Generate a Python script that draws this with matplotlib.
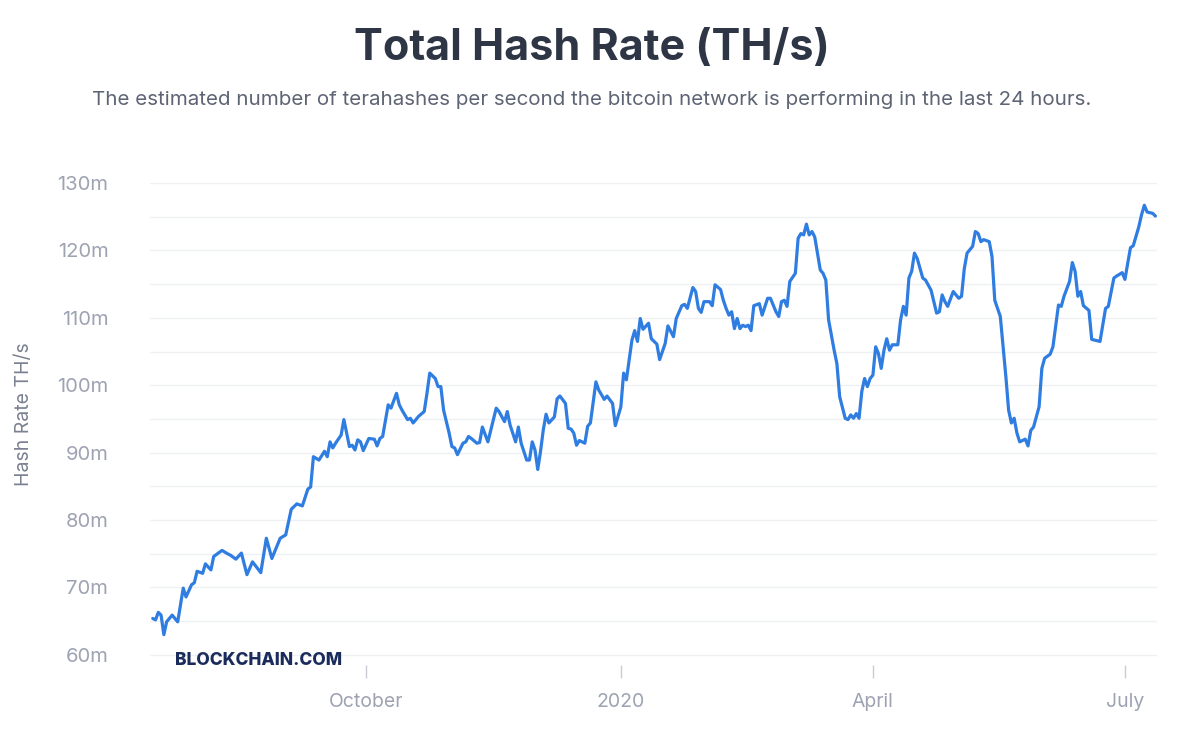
import pandas as pd
import matplotlib
matplotlib.use('Agg')
import matplotlib.pyplot as plt

plt.rcParams['font.family'] = ['Inter', 'DejaVu Sans']

start_date = '2019-07-15'

# days after start_date
days = [1, 2, 3, 4, 5, 6, 8, 10, 12, 13, 15, 16, 17, 19, 20, 22, 23, 26, 28, 29,
        31, 33, 35, 37, 40, 42, 44, 47, 49, 51, 53, 55, 57, 58, 59, 61, 63, 64, 65, 66,
        67, 69, 70, 72, 73, 74, 75, 76, 77, 79, 81, 82, 83, 84, 86, 87, 89, 90, 91, 93,
        94, 95, 97, 99, 100, 101, 103, 104, 105, 106, 108, 109, 110, 111, 113, 114, 115, 116, 118, 119,
        120, 122, 124, 125, 126, 128, 129, 130, 132, 133, 134, 136, 137, 138, 139, 140, 141, 142, 143, 144,
        146, 147, 148, 150, 151, 152, 153, 154, 155, 157, 158, 159, 161, 162, 164, 165, 167, 168, 170, 171,
        172, 174, 175, 176, 177, 178, 180, 181, 183, 184, 186, 187, 189, 190, 192, 193, 194, 196, 197, 198,
        199, 200, 202, 203, 204, 206, 207, 208, 209, 210, 211, 212, 213, 214, 215, 216, 217, 218, 220, 221,
        223, 224, 226, 227, 228, 229, 230, 231, 233, 234, 235, 236, 237, 238, 239, 240, 242, 243, 244, 245,
        247, 248, 249, 251, 252, 253, 254, 255, 256, 257, 258, 259, 260, 261, 262, 263, 264, 265, 266, 267,
        268, 270, 271, 272, 273, 274, 275, 276, 277, 279, 280, 282, 283, 284, 285, 286, 287, 288, 290, 292,
        293, 294, 295, 297, 298, 299, 300, 301, 303, 304, 305, 306, 307, 309, 310, 311, 312, 313, 314, 316,
        317, 318, 319, 321, 322, 323, 325, 326, 328, 329, 330, 332, 333, 334, 335, 336, 337, 339, 340, 342,
        343, 345, 346, 348, 349, 351, 352, 353, 354, 355, 357, 358, 359, 360, 362, 363]

# hash rate, million TH/s
hash_rate = [65.4, 65.2, 66.3, 65.9, 63.0, 64.9, 65.9, 64.9, 69.9, 68.6, 70.4, 70.7, 72.4, 72.1, 73.5, 72.6, 74.6, 75.5, 75.0, 74.8,
             74.2, 75.1, 71.9, 73.8, 72.2, 77.3, 74.3, 77.3, 77.8, 81.6, 82.4, 82.1, 84.6, 84.9, 89.4, 88.9, 90.2, 89.4, 91.6, 90.7,
             91.4, 92.6, 94.9, 90.9, 91.1, 90.4, 91.9, 91.6, 90.3, 92.1, 92.0, 91.0, 92.1, 92.4, 97.1, 96.6, 98.8, 97.1, 96.3, 94.9,
             95.1, 94.4, 95.4, 96.1, 98.8, 101.8, 101.0, 99.8, 99.8, 96.3, 92.9, 90.9, 90.7, 89.7, 91.4, 91.6, 92.4, 92.1, 91.4, 91.5,
             93.8, 91.6, 94.9, 96.6, 96.1, 94.6, 96.1, 94.1, 91.6, 93.8, 91.4, 88.9, 88.9, 91.6, 90.4, 87.5, 90.2, 93.4, 95.7, 94.4,
             95.3, 98.0, 98.4, 97.3, 93.6, 93.5, 92.9, 91.1, 91.8, 91.4, 93.9, 94.4, 100.5, 99.3, 97.9, 98.4, 97.3, 94.0, 96.8, 101.8,
             100.8, 106.7, 108.1, 106.5, 109.9, 108.3, 109.2, 106.9, 106.1, 103.8, 106.2, 108.8, 107.2, 109.9, 111.8, 112.0, 111.4, 114.5, 113.9, 111.4,
             110.8, 112.4, 112.4, 111.8, 114.9, 114.2, 112.6, 111.4, 110.4, 110.9, 108.4, 109.9, 108.4, 108.9, 108.7, 108.9, 108.1, 111.8, 112.1, 110.4,
             112.9, 112.9, 110.9, 110.2, 112.4, 112.6, 111.7, 115.4, 116.6, 121.8, 122.5, 122.3, 123.9, 122.3, 122.8, 122.0, 117.1, 116.6, 115.6, 109.7,
             105.2, 103.2, 98.3, 95.1, 94.9, 95.6, 95.1, 95.8, 95.1, 99.1, 101.0, 99.8, 101.0, 101.5, 105.7, 104.7, 102.5, 105.2, 106.9, 105.2,
             106.0, 106.0, 109.7, 111.7, 110.4, 115.9, 116.9, 119.6, 118.8, 115.9, 115.6, 114.1, 112.4, 110.7, 110.9, 113.4, 112.4, 111.7, 113.9, 112.9,
             113.2, 117.3, 119.6, 120.6, 122.8, 122.5, 121.3, 121.6, 121.3, 119.1, 112.6, 111.4, 110.2, 101.3, 96.3, 94.4, 95.1, 92.9, 91.6, 92.0,
             91.0, 93.3, 93.8, 96.8, 102.5, 104.0, 104.6, 105.7, 111.9, 111.7, 113.2, 115.4, 118.2, 116.9, 113.2, 113.9, 111.8, 111.1, 106.8, 106.6,
             106.5, 111.4, 111.7, 115.9, 116.2, 116.7, 115.7, 118.1, 120.4, 120.7, 123.5, 125.3, 126.7, 125.7, 125.5, 125.1]

tick_dates = ['2019-10-01', '2020-01-01', '2020-04-01', '2020-07-01']
tick_labels = ['October', '2020', 'April', 'July']

df = pd.DataFrame({'day': days, 'hash_rate': hash_rate})
df['date'] = pd.Timestamp(start_date) + pd.to_timedelta(df['day'], unit='D')

fig = plt.figure(figsize=(12, 7.43), dpi=100)
ax = fig.add_axes([0.125, 0.105, 0.839, 0.6487])

ax.plot(df['date'], df['hash_rate'], color='#2f7de1', linewidth=2.3,
        solid_joinstyle='round', solid_capstyle='round')

ax.set_xlim(pd.Timestamp(start_date), pd.Timestamp(start_date) + pd.Timedelta(days=363.5))
ax.set_ylim(58.5, 130)

ax.set_yticks(range(60, 131, 10))
ax.set_yticklabels([f'{v}m' for v in range(60, 131, 10)])
ax.set_yticks(range(65, 130, 10), minor=True)
ax.grid(axis='y', which='both', color='#eef0f4', linewidth=1.0)
ax.set_axisbelow(True)

ax.set_xticks(pd.to_datetime(tick_dates))
ax.set_xticklabels(tick_labels)

for s in ax.spines.values():
    s.set_visible(False)

ax.tick_params(axis='y', which='both', length=0, pad=30, labelsize=14.5, labelcolor='#9ea3b3')
ax.tick_params(axis='x', length=9, width=1, color='#c9ccd5', pad=11, labelsize=14, labelcolor='#9ea3b3')

ax.set_ylabel('Hash Rate TH/s', fontsize=14, color='#7b8191')
ax.yaxis.set_label_coords(-0.116, 0.52)

fig.text(0.493, 0.935, 'Total Hash Rate (TH/s)', ha='center', va='center',
         fontsize=31, fontweight='bold', color='#2e3646')
fig.text(0.493, 0.866, 'The estimated number of terahashes per second the bitcoin network is performing in the last 24 hours.',
         ha='center', va='center', fontsize=14.8, color='#5d6474')

ax.text(0.025, 0.01, 'BLOCKCHAIN.COM', transform=ax.transAxes, ha='left', va='center',
        fontsize=12.5, fontweight='heavy', color='#1b2c5c')

fig.savefig('out.png', dpi=100, facecolor='white')
